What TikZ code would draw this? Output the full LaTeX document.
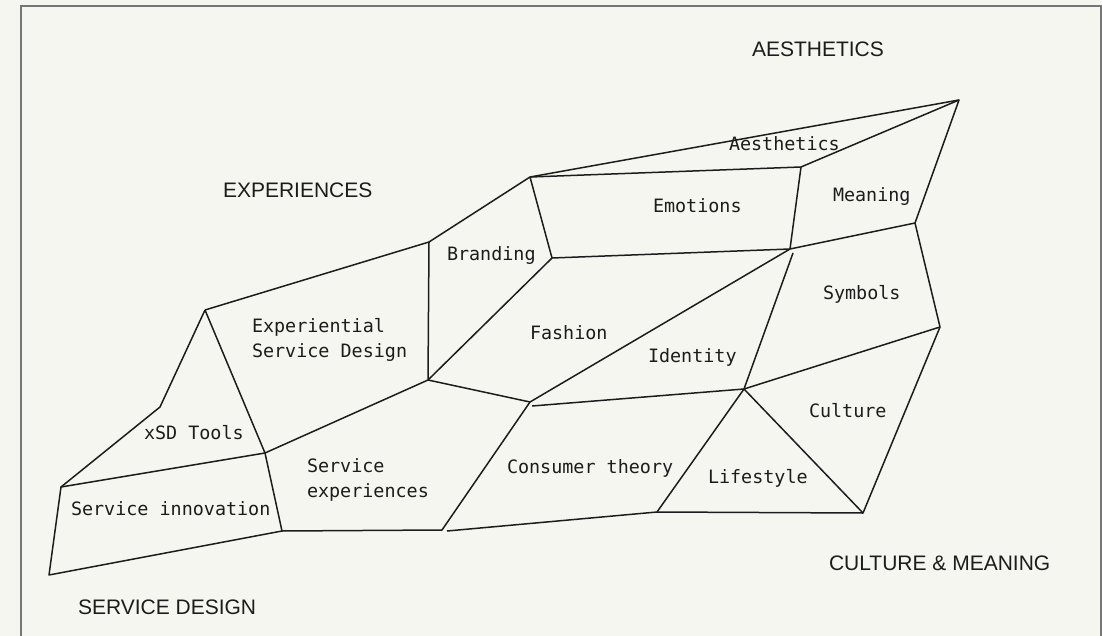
\documentclass[tikz,border=0pt]{standalone}
\usepackage{fontspec}
\setmainfont{Liberation Sans}
\setmonofont{DejaVu Sans Mono}
\usepackage{xcolor}
\definecolor{paper}{HTML}{F6F6F1}
\definecolor{rim}{HTML}{767676}
\definecolor{ink}{HTML}{1C1C1C}

\begin{document}
\begin{tikzpicture}[x=1pt,y=-1pt,
	every node/.style={inner sep=0,outer sep=0,text=ink,anchor=base west},
	topic/.style={font=\ttfamily\fontsize{18.4}{25}\selectfont,align=left},
	area/.style={font=\fontsize{21}{24}\selectfont},
	seam/.style={draw=ink,line width=1.5pt,line join=round}]
	\fill[paper] (0,0) rectangle (1102,636);
	\useasboundingbox (0,0) rectangle (1102,636);
	\draw[rim,line width=2pt] (21,640) -- (21,6) -- (1101,6) -- (1101,640);

	\coordinate (apex) at (959,100);
	\coordinate (brt) at (530,177);
	\coordinate (emtr) at (801,167);
	\coordinate (brl) at (429,242);
	\coordinate (embl) at (552,258);
	\coordinate (embr) at (790,249);
	\coordinate (idt) at (793,253);
	\coordinate (mnbr) at (915,223);
	\coordinate (syr) at (940,327);
	\coordinate (hub) at (744,389);
	\coordinate (cubr) at (863,513);
	\coordinate (lfbl) at (657,512);
	\coordinate (fsbl) at (428,380);
	\coordinate (fsbr) at (530,402);
	\coordinate (idbl) at (532,406);
	\coordinate (esd) at (205,310);
	\coordinate (notch) at (160,407);
	\coordinate (xsbl) at (61,487);
	\coordinate (xsbr) at (265,453);
	\coordinate (sibr) at (282,531);
	\coordinate (sibl) at (49,575);
	\coordinate (sebr) at (442,530);
	\coordinate (ctbl) at (447,531);

	\draw[seam] (brt) -- (apex) -- (mnbr) -- (syr) -- (cubr) -- (lfbl) -- (ctbl);
	\draw[seam] (brt) -- (emtr) -- (apex);
	\draw[seam] (emtr) -- (embr) -- (mnbr);
	\draw[seam] (brt) -- (embl) -- (embr);
	\draw[seam] (esd) -- (brl) -- (brt);
	\draw[seam] (brl) -- (fsbl) -- (embl);
	\draw[seam] (embr) -- (fsbr) -- (fsbl);
	\draw[seam] (idt) -- (hub) -- (idbl);
	\draw[seam] (hub) -- (syr);
	\draw[seam] (hub) -- (cubr);
	\draw[seam] (hub) -- (lfbl);
	\draw[seam] (fsbr) -- (sebr) -- (sibr);
	\draw[seam] (fsbl) -- (xsbr);
	\draw[seam] (esd) -- (xsbr) -- (sibr) -- (sibl) -- (xsbl) -- (xsbr);
	\draw[seam] (esd) -- (notch) -- (xsbl);

	\node[area] (aes) at (752,57) {AESTHETICS};
	\node[area] (exp) at (223,198) {EXPERIENCES};
	\node[area] (sd) at (78,614) {SERVICE DESIGN};
	\node[area] (cm) at (829,570) {CULTURE \& MEANING};

	\node[topic] (aesthetics) at (729,151) {Aesthetics};
	\node[topic] (meaning) at (833,202) {Meaning};
	\node[topic] (emotions) at (653,213) {Emotions};
	\node[topic] (branding) at (447,261) {Branding};
	\node[topic] (fashion) at (530,339) {Fashion};
	\node[topic] (identity) at (648,362) {Identity};
	\node[topic] (symbols) at (823,299) {Symbols};
	\node[topic] (culture) at (809,417) {Culture};
	\node[topic] (lifestyle) at (708,483) {Lifestyle};
	\node[topic] (consumer) at (507,473) {Consumer theory};
	\node[topic] (esdesign) at (252,357) {Experiential\\Service Design};
	\node[topic] (sdtools) at (144,439) {xSD Tools};
	\node[topic] (serexp) at (307,497) {Service\\experiences};
	\node[topic] (serinn) at (71,515) {Service innovation};
\end{tikzpicture}
\end{document}
